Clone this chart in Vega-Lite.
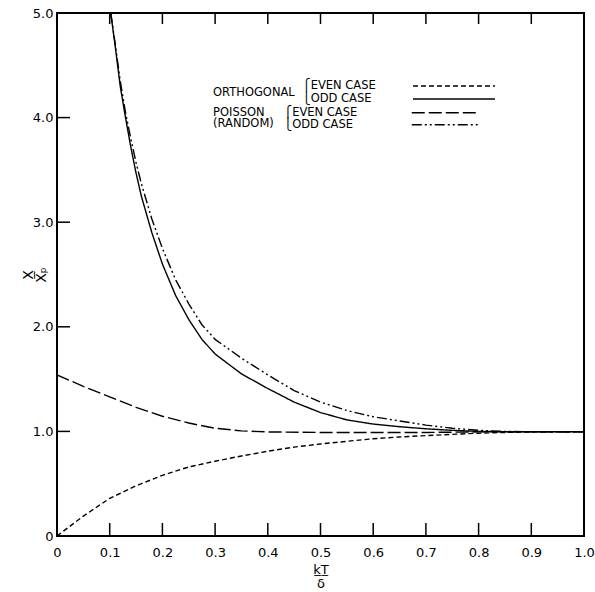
{
  "$schema": "https://vega.github.io/schema/vega-lite/v6.json",
  "width": 527,
  "height": 523,
  "autosize": {"type": "none"},
  "padding": {"left": 57, "top": 13, "right": 11, "bottom": 56},
  "background": "white",
  "config": {
    "font": "DejaVu Sans",
    "view": {"stroke": "black", "strokeWidth": 2},
    "axis": {
      "grid": false,
      "domain": false,
      "ticks": false,
      "tickSize": 0,
      "labelColor": "black",
      "labelFont": "DejaVu Sans",
      "labelFontSize": 13,
      "labelFlush": false,
      "labelOverlap": false,
      "titleColor": "black",
      "titleFont": "DejaVu Sans",
      "titleFontWeight": "normal",
      "titleFontSize": 13
    },
    "legend": {
      "orient": "none",
      "padding": 0,
      "titleOrient": "left",
      "titleAnchor": "start",
      "titleFont": "DejaVu Sans",
      "titleFontSize": 11.5,
      "titleFontWeight": "normal",
      "titleColor": "black",
      "titleBaseline": "line-top",
      "labelFont": "DejaVu Sans",
      "labelFontSize": 11.5,
      "labelColor": "black",
      "labelAlign": "left",
      "labelLimit": 0,
      "symbolType": "M-8,0H8",
      "symbolStrokeColor": "black",
      "symbolStrokeWidth": 1.3
    }
  },
  "datasets": {
    "xticks": [
      {"v": 0.1}, {"v": 0.2}, {"v": 0.3}, {"v": 0.4}, {"v": 0.5},
      {"v": 0.6}, {"v": 0.7}, {"v": 0.8}, {"v": 0.9}
    ],
    "yticks": [
      {"v": 1}, {"v": 2}, {"v": 3}, {"v": 4}
    ],
    "ortho": [
      {"kt": 0.0, "r": 0.0, "case": "EVEN CASE"},
      {"kt": 0.05, "r": 0.19, "case": "EVEN CASE"},
      {"kt": 0.1, "r": 0.36, "case": "EVEN CASE"},
      {"kt": 0.15, "r": 0.48, "case": "EVEN CASE"},
      {"kt": 0.2, "r": 0.58, "case": "EVEN CASE"},
      {"kt": 0.25, "r": 0.66, "case": "EVEN CASE"},
      {"kt": 0.3, "r": 0.715, "case": "EVEN CASE"},
      {"kt": 0.35, "r": 0.765, "case": "EVEN CASE"},
      {"kt": 0.4, "r": 0.81, "case": "EVEN CASE"},
      {"kt": 0.45, "r": 0.85, "case": "EVEN CASE"},
      {"kt": 0.5, "r": 0.88, "case": "EVEN CASE"},
      {"kt": 0.55, "r": 0.905, "case": "EVEN CASE"},
      {"kt": 0.6, "r": 0.93, "case": "EVEN CASE"},
      {"kt": 0.65, "r": 0.947, "case": "EVEN CASE"},
      {"kt": 0.7, "r": 0.96, "case": "EVEN CASE"},
      {"kt": 0.75, "r": 0.972, "case": "EVEN CASE"},
      {"kt": 0.8, "r": 0.983, "case": "EVEN CASE"},
      {"kt": 0.85, "r": 0.99, "case": "EVEN CASE"},
      {"kt": 0.9, "r": 0.995, "case": "EVEN CASE"},
      {"kt": 1.0, "r": 0.997, "case": "EVEN CASE"},
      {"kt": 0.102, "r": 5.0, "case": "ODD CASE"},
      {"kt": 0.11, "r": 4.7, "case": "ODD CASE"},
      {"kt": 0.12, "r": 4.3, "case": "ODD CASE"},
      {"kt": 0.13, "r": 4.0, "case": "ODD CASE"},
      {"kt": 0.14, "r": 3.72, "case": "ODD CASE"},
      {"kt": 0.15, "r": 3.47, "case": "ODD CASE"},
      {"kt": 0.16, "r": 3.25, "case": "ODD CASE"},
      {"kt": 0.18, "r": 2.9, "case": "ODD CASE"},
      {"kt": 0.2, "r": 2.6, "case": "ODD CASE"},
      {"kt": 0.225, "r": 2.3, "case": "ODD CASE"},
      {"kt": 0.25, "r": 2.07, "case": "ODD CASE"},
      {"kt": 0.275, "r": 1.88, "case": "ODD CASE"},
      {"kt": 0.3, "r": 1.74, "case": "ODD CASE"},
      {"kt": 0.35, "r": 1.55, "case": "ODD CASE"},
      {"kt": 0.4, "r": 1.41, "case": "ODD CASE"},
      {"kt": 0.45, "r": 1.28, "case": "ODD CASE"},
      {"kt": 0.5, "r": 1.18, "case": "ODD CASE"},
      {"kt": 0.55, "r": 1.11, "case": "ODD CASE"},
      {"kt": 0.6, "r": 1.07, "case": "ODD CASE"},
      {"kt": 0.65, "r": 1.045, "case": "ODD CASE"},
      {"kt": 0.7, "r": 1.025, "case": "ODD CASE"},
      {"kt": 0.75, "r": 1.01, "case": "ODD CASE"},
      {"kt": 0.8, "r": 1.0, "case": "ODD CASE"},
      {"kt": 0.85, "r": 0.997, "case": "ODD CASE"},
      {"kt": 0.9, "r": 0.997, "case": "ODD CASE"},
      {"kt": 1.0, "r": 0.997, "case": "ODD CASE"}
    ],
    "poisson": [
      {"kt": 0.0, "r": 1.54, "case": "EVEN CASE"},
      {"kt": 0.05, "r": 1.43, "case": "EVEN CASE"},
      {"kt": 0.1, "r": 1.33, "case": "EVEN CASE"},
      {"kt": 0.15, "r": 1.23, "case": "EVEN CASE"},
      {"kt": 0.2, "r": 1.145, "case": "EVEN CASE"},
      {"kt": 0.25, "r": 1.08, "case": "EVEN CASE"},
      {"kt": 0.3, "r": 1.03, "case": "EVEN CASE"},
      {"kt": 0.35, "r": 1.005, "case": "EVEN CASE"},
      {"kt": 0.4, "r": 0.995, "case": "EVEN CASE"},
      {"kt": 0.5, "r": 0.99, "case": "EVEN CASE"},
      {"kt": 0.6, "r": 0.99, "case": "EVEN CASE"},
      {"kt": 0.7, "r": 0.99, "case": "EVEN CASE"},
      {"kt": 0.8, "r": 0.995, "case": "EVEN CASE"},
      {"kt": 1.0, "r": 0.997, "case": "EVEN CASE"},
      {"kt": 0.102, "r": 5.0, "case": "ODD CASE"},
      {"kt": 0.11, "r": 4.72, "case": "ODD CASE"},
      {"kt": 0.12, "r": 4.35, "case": "ODD CASE"},
      {"kt": 0.13, "r": 4.05, "case": "ODD CASE"},
      {"kt": 0.14, "r": 3.8, "case": "ODD CASE"},
      {"kt": 0.15, "r": 3.57, "case": "ODD CASE"},
      {"kt": 0.16, "r": 3.37, "case": "ODD CASE"},
      {"kt": 0.18, "r": 3.03, "case": "ODD CASE"},
      {"kt": 0.2, "r": 2.75, "case": "ODD CASE"},
      {"kt": 0.225, "r": 2.45, "case": "ODD CASE"},
      {"kt": 0.25, "r": 2.22, "case": "ODD CASE"},
      {"kt": 0.275, "r": 2.02, "case": "ODD CASE"},
      {"kt": 0.3, "r": 1.88, "case": "ODD CASE"},
      {"kt": 0.35, "r": 1.7, "case": "ODD CASE"},
      {"kt": 0.4, "r": 1.54, "case": "ODD CASE"},
      {"kt": 0.45, "r": 1.39, "case": "ODD CASE"},
      {"kt": 0.5, "r": 1.28, "case": "ODD CASE"},
      {"kt": 0.55, "r": 1.2, "case": "ODD CASE"},
      {"kt": 0.6, "r": 1.14, "case": "ODD CASE"},
      {"kt": 0.65, "r": 1.1, "case": "ODD CASE"},
      {"kt": 0.7, "r": 1.06, "case": "ODD CASE"},
      {"kt": 0.75, "r": 1.03, "case": "ODD CASE"},
      {"kt": 0.8, "r": 1.01, "case": "ODD CASE"},
      {"kt": 0.85, "r": 1.0, "case": "ODD CASE"},
      {"kt": 0.9, "r": 0.997, "case": "ODD CASE"},
      {"kt": 1.0, "r": 0.997, "case": "ODD CASE"}
    ]
  },
  "layer": [
    {
      "data": {"name": "ortho"},
      "mark": {"type": "line", "color": "black", "strokeWidth": 1.4, "clip": true},
      "encoding": {
        "x": {
          "field": "kt", "type": "quantitative",
          "scale": {"domain": [0, 1], "nice": false, "zero": false},
          "axis": {
            "orient": "bottom",
            "values": [0, 0.1, 0.2, 0.3, 0.4, 0.5, 0.6, 0.7, 0.8, 0.9, 1.0],
            "labelExpr": "datum.value == 0 ? '0' : format(datum.value, '.1f')",
            "labelPadding": 10,
            "title": ["k\u0332T\u0332", "\u03b4"],
            "titleLineHeight": 14,
            "titlePadding": 4
          }
        },
        "y": {
          "field": "r", "type": "quantitative",
          "scale": {"domain": [0, 5], "nice": false},
          "axis": {
            "values": [0, 1, 2, 3, 4, 5],
            "labelExpr": "datum.value == 0 ? '0' : format(datum.value, '.1f')",
            "labelPadding": 4,
            "title": ["X\u0332", "X\u209a"],
            "titleX": -29,
            "titleFontSize": 14,
            "titleBaseline": "middle",
            "titleLineHeight": 13
          }
        },
        "strokeDash": {
          "field": "case", "type": "nominal",
          "scale": {"domain": ["EVEN CASE", "ODD CASE"], "range": [[5, 3], [1, 0]]},
          "legend": {
            "title": "ORTHOGONAL",
            "titleLineHeight": 26,
            "labelExpr": "datum.label == 'EVEN CASE' ? '\u23a7EVEN CASE' : '\u23a9ODD CASE'",
            "symbolSize": 105,
            "labelOffset": -158,
            "titlePadding": 153,
            "rowPadding": 1,
            "legendX": 156,
            "legendY": 67
          }
        }
      }
    },
    {
      "data": {"name": "poisson"},
      "mark": {"type": "line", "color": "black", "strokeWidth": 1.4, "clip": true},
      "encoding": {
        "x": {"field": "kt", "type": "quantitative", "axis": null},
        "y": {"field": "r", "type": "quantitative", "axis": null},
        "strokeDash": {
          "field": "case", "type": "nominal",
          "scale": {"domain": ["EVEN CASE", "ODD CASE"], "range": [[13, 4], [10, 3, 2, 3, 2, 3]]},
          "legend": {
            "title": ["POISSON", "(RANDOM)"],
            "titleLineHeight": 11,
            "labelExpr": "datum.label == 'EVEN CASE' ? '\u23a7EVEN CASE' : '\u23a9ODD CASE'",
            "symbolSize": 68,
            "labelOffset": -167,
            "titlePadding": 165,
            "rowPadding": -1,
            "legendX": 156,
            "legendY": 94
          }
        }
      }
    },
    {
      "data": {"name": "xticks"},
      "mark": {"type": "rule", "color": "black", "strokeWidth": 1.5, "opacity": 1},
      "encoding": {
        "x": {"field": "v", "type": "quantitative", "axis": null},
        "y": {"datum": 0, "type": "quantitative", "axis": null},
        "y2": {"datum": 0.124}
      }
    },
    {
      "data": {"name": "xticks"},
      "mark": {"type": "rule", "color": "black", "strokeWidth": 1.5, "opacity": 1},
      "encoding": {
        "x": {"field": "v", "type": "quantitative", "axis": null},
        "y": {"datum": 5, "type": "quantitative", "axis": null},
        "y2": {"datum": 4.895}
      }
    },
    {
      "data": {"name": "yticks"},
      "mark": {"type": "rule", "color": "black", "strokeWidth": 1.5, "opacity": 1},
      "encoding": {
        "y": {"field": "v", "type": "quantitative", "axis": null},
        "x": {"datum": 0, "type": "quantitative", "axis": null},
        "x2": {"datum": 0.0247}
      }
    }
  ],
  "resolve": {"scale": {"strokeDash": "independent"}, "axis": {"x": "independent", "y": "independent"}}
}
